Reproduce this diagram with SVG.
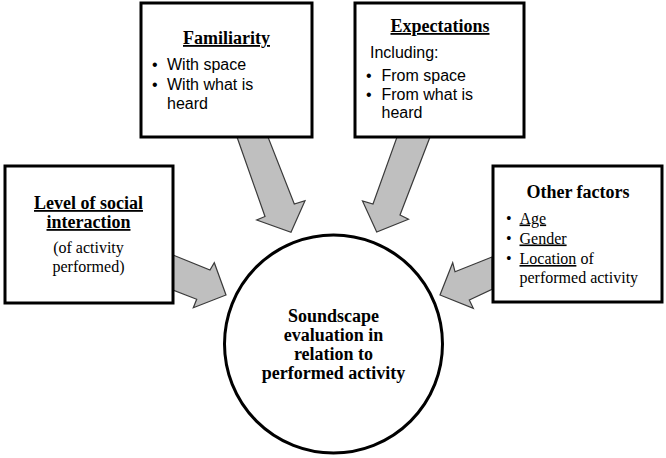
<svg xmlns="http://www.w3.org/2000/svg" width="666" height="458" viewBox="0 0 666 458">
<style>
.box{fill:#fff;stroke:#000;stroke-width:3}
.arr{fill:#bfbfbf;stroke:#3a3a3a;stroke-width:1.2;stroke-linejoin:miter}
.tb{font-family:"Liberation Serif",serif;font-weight:bold;font-size:18px;fill:#000}
.tr{font-family:"Liberation Serif",serif;font-size:16px;fill:#000}
.s{font-family:"Liberation Sans",sans-serif;font-size:16px;fill:#000}
.u{text-decoration:underline}
</style>
<rect width="666" height="458" fill="#fff"/>
<g id="connectors">
<polygon class="arr" points="237,137 268,137 294.3,204 305,200.7 291,232.3 256.7,220 265,216.5"/>
<polygon class="arr" points="397,137 430,137 400,215 408.5,219.3 376.7,232 362.5,201 373,204"/>
<polygon class="arr" points="173,255 210,270 214.3,262.7 226,295 193.3,307.7 196.7,299.3 173,290"/>
<polygon class="arr" points="492,257 455,271.7 452.7,262.7 440,295 473.3,308.3 469.3,300 492,289.3"/>
</g>
<g id="familiarity">
<rect class="box" x="141" y="3" width="171" height="134"/>
<text class="tb u" x="226.5" y="44" text-anchor="middle">Familiarity</text>
<text class="s" x="152" y="70">•</text><text class="s" x="167" y="70">With space</text>
<text class="s" x="152" y="89.5">•</text><text class="s" x="167" y="89.5">With what is</text>
<text class="s" x="167" y="108.5">heard</text>
</g>
<g id="expectations">
<rect class="box" x="355" y="3" width="169" height="134"/>
<text class="tb u" x="440" y="32" text-anchor="middle">Expectations</text>
<text class="s" x="370" y="58">Including:</text>
<text class="s" x="366" y="81">•</text><text class="s" x="381.5" y="81">From space</text>
<text class="s" x="366" y="99.5">•</text><text class="s" x="381.5" y="99.5">From what is</text>
<text class="s" x="381.5" y="118">heard</text>
</g>
<g id="social">
<rect class="box" x="5" y="166" width="168" height="137"/>
<text class="tb u" x="88.5" y="209" text-anchor="middle">Level of social</text>
<text class="tb u" x="88.5" y="228" text-anchor="middle">interaction</text>
<text class="tr" x="88.5" y="253" text-anchor="middle" font-size="16.5">(of activity</text>
<text class="tr" x="88.5" y="271.5" text-anchor="middle" font-size="16.5">performed)</text>
</g>
<g id="other">
<rect class="box" x="493" y="166" width="169" height="136"/>
<text class="tb" x="578" y="198" text-anchor="middle">Other factors</text>
<text class="tr" x="506" y="223.5">•</text><text class="tr u" x="519.5" y="223.5">Age</text>
<text class="tr" x="506" y="243.5">•</text><text class="tr u" x="519.5" y="243.5">Gender</text>
<text class="tr" x="506" y="264">•</text><text class="tr" x="519.5" y="264"><tspan class="u">Location</tspan> of</text>
<text class="tr" x="519.5" y="282.5">performed activity</text>
</g>
<g id="soundscape">
<circle cx="333.5" cy="344" r="109" fill="#fff" stroke="#000" stroke-width="3"/>
<text class="tb" x="333.5" y="321.5" text-anchor="middle">Soundscape</text>
<text class="tb" x="333.5" y="340.5" text-anchor="middle">evaluation in</text>
<text class="tb" x="333.5" y="359.5" text-anchor="middle">relation to</text>
<text class="tb" x="333.5" y="378.5" text-anchor="middle">performed activity</text>
</g>
</svg>
